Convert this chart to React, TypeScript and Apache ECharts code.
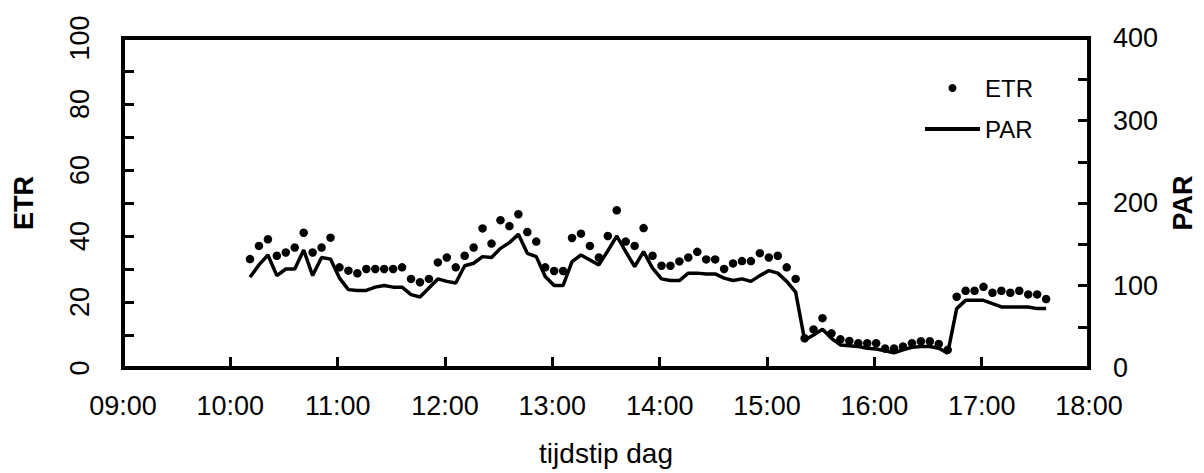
import { useEffect, useRef } from 'react';
import * as echarts from 'echarts';

const times = [
    '10:11', '10:16', '10:21', '10:26', '10:31', '10:36', '10:41', '10:46', '10:51', '10:56',
    '11:01', '11:06', '11:11', '11:16', '11:21', '11:26', '11:31', '11:36', '11:41', '11:46',
    '11:51', '11:56', '12:01', '12:06', '12:11', '12:16', '12:21', '12:26', '12:31', '12:36',
    '12:41', '12:46', '12:51', '12:56', '13:01', '13:06', '13:11', '13:16', '13:21', '13:26',
    '13:31', '13:36', '13:41', '13:46', '13:51', '13:56', '14:01', '14:06', '14:11', '14:16',
    '14:21', '14:26', '14:31', '14:36', '14:41', '14:46', '14:51', '14:56', '15:01', '15:06',
    '15:11', '15:16', '15:21', '15:26', '15:31', '15:36', '15:41', '15:46', '15:51', '15:56',
    '16:01', '16:06', '16:11', '16:16', '16:21', '16:26', '16:31', '16:36', '16:41', '16:46',
    '16:51', '16:56', '17:01', '17:06', '17:11', '17:16', '17:21', '17:26', '17:31', '17:36'
];

const etr = [
    33, 37, 39, 34, 35, 36.5, 41, 35, 36.5, 39.5,
    30.5, 29.5, 28.7, 30, 30, 30, 30, 30.5, 27, 26,
    27, 32, 33.5, 30.5, 34, 36.5, 42.3, 37.7, 44.8, 43,
    46.6, 41.2, 38.3, 30.5, 29.4, 29.4, 39.4, 40.7, 37, 33.5,
    40, 47.8, 38.3, 37, 42.4, 34, 31, 31, 32.3, 33.5,
    35.2, 32.9, 32.9, 30, 31.7, 32.4, 32.4, 34.8, 33.5, 34,
    30.5, 27, 9, 11.7, 15.1, 10.5, 8.7, 8.2, 7.5, 7.5,
    7.5, 5.9, 5.9, 6.5, 7.5, 8.1, 8.1, 7.3, 5.5, 21.6,
    23.4, 23.4, 24.6, 22.8, 23.4, 22.8, 23.4, 22.3, 22.3, 20.9
];

const par = [
    110, 125, 137, 112, 120, 120, 143, 112, 134, 132,
    109, 95, 94, 94, 98, 100, 98, 98, 89, 86,
    97, 108, 105, 103, 124, 127, 135, 134, 145, 152,
    162, 139, 135, 111, 100, 100, 129, 137, 131, 125,
    142, 160, 141, 123, 141, 121, 108, 106, 106, 115,
    115, 114, 114, 109, 106, 108, 105, 112, 118, 115,
    105, 92, 34, 40, 47, 36, 28, 27, 26, 24,
    23, 21, 18.5, 22, 25, 26, 26, 24, 18, 72,
    82, 82, 82, 78, 74, 74, 74, 74, 72, 72
];

const hourLabels = ['09:00', '10:00', '11:00', '12:00', '13:00', '14:00', '15:00', '16:00', '17:00', '18:00'];

const toMin = (s: string) => {
    const [h, m] = s.split(':').map(Number);
    return h * 60 + m;
};

const font = 'Arial, "Liberation Sans", sans-serif';

const tickStyle = { color: '#000000', width: 3 };

const App = () => {
    const chartRef = useRef(null);

    useEffect(() => {
        if (chartRef.current) {
            const myChart = echarts.init(chartRef.current, null, { renderer: 'svg' });

            const option = {
                animation: false,
                textStyle: { fontFamily: font, color: '#000000' },
                grid: {
                    left: 123,
                    right: 104,
                    top: 38,
                    bottom: 105,
                    show: true,
                    borderColor: '#000000',
                    borderWidth: 4
                },
                legend: {
                    orient: 'vertical',
                    left: 918,
                    top: 71,
                    itemWidth: 55,
                    itemHeight: 8,
                    itemGap: 17,
                    textStyle: { fontFamily: font, fontSize: 24, color: '#000000' },
                    data: [
                        { name: 'ETR', icon: 'circle', itemStyle: { color: '#000000', opacity: 1 } },
                        { name: 'PAR', itemStyle: { opacity: 0 }, lineStyle: { color: '#000000', width: 4 } }
                    ]
                },
                xAxis: {
                    type: 'value',
                    min: 540,
                    max: 1080,
                    interval: 60,
                    axisLine: { show: false },
                    axisTick: { inside: true, length: 11, lineStyle: tickStyle },
                    splitLine: { show: false },
                    axisLabel: {
                        fontFamily: font,
                        fontSize: 27,
                        color: '#000000',
                        margin: 24,
                        formatter: (v: number) => hourLabels[Math.round((v - 540) / 60)]
                    },
                    name: 'tijdstip dag',
                    nameLocation: 'middle',
                    nameGap: 71,
                    nameTextStyle: { fontFamily: font, fontSize: 28, color: '#000000' }
                },
                yAxis: [
                    {
                        type: 'value',
                        position: 'left',
                        min: 0,
                        max: 100,
                        interval: 20,
                        axisLine: { show: false },
                        axisTick: { inside: true, length: 11, lineStyle: tickStyle },
                        minorTick: { show: true, splitNumber: 2, length: 11, lineStyle: tickStyle },
                        splitLine: { show: false },
                        axisLabel: { fontFamily: font, fontSize: 27, color: '#000000', rotate: 90, margin: 30 },
                        name: 'ETR',
                        nameLocation: 'middle',
                        nameRotate: 90,
                        nameGap: 86,
                        nameTextStyle: { fontFamily: font, fontSize: 27, fontWeight: 'bold', color: '#000000' }
                    },
                    {
                        type: 'value',
                        position: 'right',
                        min: 0,
                        max: 400,
                        interval: 100,
                        axisLine: { show: false },
                        axisTick: { inside: true, length: 11, lineStyle: tickStyle },
                        minorTick: { show: true, splitNumber: 2, length: 11, lineStyle: tickStyle },
                        splitLine: { show: false },
                        axisLabel: { fontFamily: font, fontSize: 27, color: '#000000', margin: 24 },
                        name: 'PAR',
                        nameLocation: 'middle',
                        nameRotate: 90,
                        nameGap: 76,
                        nameTextStyle: { fontFamily: font, fontSize: 27, fontWeight: 'bold', color: '#000000' }
                    }
                ],
                series: [
                    {
                        name: 'ETR',
                        type: 'scatter',
                        yAxisIndex: 0,
                        symbol: 'circle',
                        symbolSize: 8.5,
                        itemStyle: { color: '#000000', opacity: 1 },
                        data: times.map((t, i) => [toMin(t), etr[i]])
                    },
                    {
                        name: 'PAR',
                        type: 'line',
                        yAxisIndex: 1,
                        symbol: 'none',
                        lineStyle: { color: '#000000', width: 3.5 },
                        itemStyle: { color: '#000000' },
                        data: times.map((t, i) => [toMin(t), par[i]])
                    }
                ]
            };

            myChart.setOption(option);

            return () => {
                myChart.dispose();
            };
        }
    }, []);

    return (
        <div
            ref={chartRef}
            style={{ position: 'absolute', left: 0, top: 0, width: '1204px', height: '473px', background: '#ffffff' }}
        />
    );
};

export default App;
